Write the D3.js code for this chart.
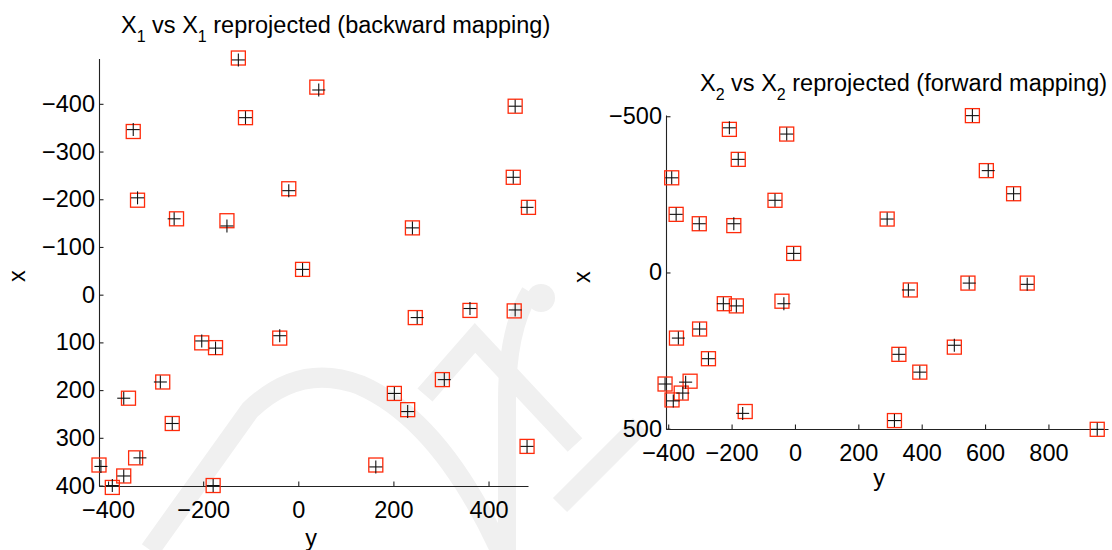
<!DOCTYPE html>
<html>
<head>
<meta charset="utf-8" />
<title>Reprojection check</title>
<style>
  body { margin: 0; background: #fff; }
  svg text { font-family: "Liberation Sans", Arial, Helvetica, sans-serif; fill: #000; }
</style>
</head>
<body>
<svg id="chart" width="1112" height="550"></svg>
<script src="https://d3js.org/d3.v7.min.js"></script>
<script>
// left panel: X1 (red squares) vs X1 reprojected (black plus), horizontal = y, vertical = x
var x1Y    = [-126,-111,-347,-338,-256,-150,-20,39,240,9,-203,-174,-39,-285,-357,-265,-342,-419,-367,-391,-179,246,361,303,202,230,163,456,452,484,454,481];
var x1X    = [-496,-371,-342,-198,-159,-155,-222,-435,-140,-53,101,111,91,183,217,270,342,357,380,404,400,48,33,178,207,241,357,-395,-246,-183,34,318];
var x1RepY = [-126,-111,-347,-338,-261,-150,-20,43,240,9,-203,-174,-39,-290,-367,-265,-333,-415,-367,-391,-179,250,361,307,202,230,163,456,452,481,456,481];
var x1RepX = [-492,-371,-346,-203,-159,-144,-218,-429,-140,-53,97,112,86,183,217,270,342,360,380,400,400,48,29,178,207,245,361,-395,-246,-183,32,318];

// right panel: X2 vs X2 reprojected
var x2Y    = [-207,-26,-179,-389,-63,-375,-302,-193,-4,560,604,690,291,-223,-185,-41,-301,-374,-273,-410,-331,-359,-388,-157,364,546,733,328,503,394,314,954];
var x2X    = [-458,-443,-362,-303,-231,-186,-156,-150,-61,-502,-326,-252,-171,100,107,92,181,210,276,357,348,386,408,445,56,34,34,262,239,319,474,502];
var x2RepY = [-207,-26,-179,-389,-63,-375,-302,-193,-4,560,610,690,291,-226,-185,-35,-301,-368,-273,-410,-345,-354,-384,-165,358,550,733,328,503,394,314,954];
var x2RepX = [-463,-443,-362,-303,-231,-186,-156,-156,-61,-502,-326,-252,-171,100,107,100,181,210,276,357,351,386,411,451,56,34,38,262,233,319,474,502];

var leftYTicks = [-400,-300,-200,-100,0,100,200,300,400];
var leftXTicks = [-400,-200,0,200,400];
var rightYTicks = [-500,0,500];
var rightXTicks = [-400,-200,0,200,400,600,800];

var svg = d3.select("#chart");

// faint watermark in the background
var wm = svg.append("g").attr("fill", "none").attr("stroke", "#f0f0f0").attr("stroke-width", 20);
wm.append("path").attr("d", "M150,550 L250,410 Q300,362 360,385 Q440,420 500,550");
wm.append("path").attr("d", "M425,395 L475,338 L575,445");
wm.append("path").attr("d", "M530,292 Q507,330 507,400 L507,550").attr("stroke-width", 18);
wm.append("circle").attr("cx", 541).attr("cy", 298).attr("r", 14).attr("fill", "#f0f0f0").attr("stroke", "none");
wm.append("path").attr("d", "M560,505 L640,425");

var panels = [
  {
    sqY: x1Y, sqX: x1X, pY: x1RepY, pX: x1RepX,
    hDomain: [-419, 483], hRange: [99, 528],
    vDomain: [-495, 401], vRange: [58.5, 486],
    hTicks: leftXTicks, vTicks: leftYTicks,
    title: ["X", "1", " vs X", "1", " reprojected (backward mapping)"],
    titleX: 121, titleY: 33,
    xLab: [25, 276], yLab: [311, 546]
  },
  {
    sqY: x2Y, sqX: x2X, pY: x2RepY, pX: x2RepX,
    hDomain: [-407, 988], hRange: [666, 1108],
    vDomain: [-504, 501], vRange: [115, 429],
    hTicks: rightXTicks, vTicks: rightYTicks,
    title: ["X", "2", " vs X", "2", " reprojected (forward mapping)"],
    titleX: 700, titleY: 91,
    xLab: [590, 277], yLab: [879, 486]
  }
];

panels.forEach(function(p) {
  var h = d3.scaleLinear().domain(p.hDomain).range(p.hRange);
  var v = d3.scaleLinear().domain(p.vDomain).range(p.vRange);
  var g = svg.append("g");

  var xAxis = d3.axisBottom(h).tickValues(p.hTicks)
    .tickSizeInner(-4.5).tickSizeOuter(0).tickPadding(15);
  var yAxis = d3.axisLeft(v).tickValues(p.vTicks)
    .tickSizeInner(-4.5).tickSizeOuter(0).tickPadding(4);

  g.append("g").attr("transform", "translate(0," + p.vRange[1] + ")").call(xAxis);
  g.append("g").attr("transform", "translate(" + p.hRange[0] + ",0)").call(yAxis);

  g.selectAll(".domain, .tick line").attr("stroke", "#222").attr("stroke-width", 1.1);
  g.selectAll(".tick text")
    .style("font-family", "'Liberation Sans', Arial, sans-serif")
    .style("font-size", "23.5px").attr("fill", "#000");

  var pts = d3.range(p.sqY.length);

  // red squares (original points)
  g.selectAll("rect.sq").data(pts).enter().append("rect")
    .attr("class", "sq")
    .attr("x", function(i){ return h(p.sqY[i]) - 7; })
    .attr("y", function(i){ return v(p.sqX[i]) - 7; })
    .attr("width", 14).attr("height", 14)
    .attr("fill", "none").attr("stroke", "#ff2a0a").attr("stroke-width", 1.3);

  // black plus (reprojected)
  var plus = g.selectAll("g.plus").data(pts).enter().append("g")
    .attr("class", "plus")
    .attr("transform", function(i){ return "translate(" + h(p.pY[i]) + "," + v(p.pX[i]) + ")"; });
  plus.append("line").attr("x1", -6.5).attr("x2", 6.5).attr("y1", 0).attr("y2", 0);
  plus.append("line").attr("x1", 0).attr("x2", 0).attr("y1", -6.5).attr("y2", 6.5);
  plus.selectAll("line").attr("stroke", "#111").attr("stroke-width", 1.1);

  // title with subscripts
  var t = g.append("text").attr("x", p.titleX).attr("y", p.titleY)
    .style("font-size", "23.5px");
  p.title.forEach(function(s, k) {
    if (k % 2 === 1 && k < 4) {
      t.append("tspan").attr("dy", 9).style("font-size", "16px").text(s);
    } else {
      t.append("tspan").attr("dy", k === 0 ? 0 : -9).text(s);
    }
  });

  g.append("text")
    .attr("transform", "translate(" + p.xLab[0] + "," + p.xLab[1] + ") rotate(-90)")
    .attr("text-anchor", "middle").style("font-size", "23.5px").text("x");
  g.append("text").attr("x", p.yLab[0]).attr("y", p.yLab[1])
    .attr("text-anchor", "middle").style("font-size", "23.5px").text("y");
});
</script>
</body>
</html>
